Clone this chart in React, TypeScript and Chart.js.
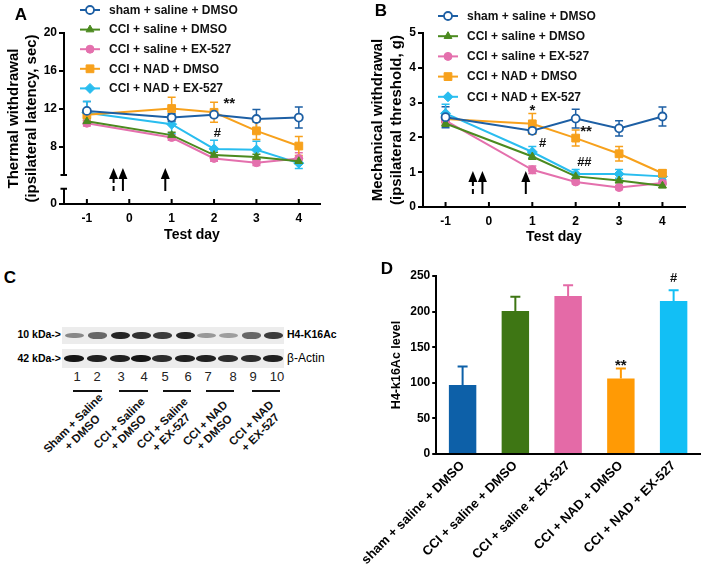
import React, { useEffect, useRef } from 'react';
import { Chart, registerables } from 'chart.js';
Chart.register(...registerables);

const FONT = '"Liberation Sans", Arial, Helvetica, sans-serif';

// ---------------- data ----------------
const testDays = [-1, 1, 2, 3, 4];
const dayTicks = [-1, 0, 1, 2, 3, 4];
const groupNames = [
  'sham + saline + DMSO',
  'CCI + saline + DMSO',
  'CCI + saline + EX-527',
  'CCI + NAD + DMSO',
  'CCI + NAD + EX-527',
];

// Panel A: thermal withdrawal latency (sec)
const thermalSham = [11.8, 11.1, 11.4, 10.95, 11.1];
const thermalShamErr = [1.0, 0.4, 0.25, 1.0, 1.1];
const thermalCciDmso = [10.7, 9.25, 7.15, 6.95, 6.5];
const thermalCciDmsoErr = [0.3, 0.3, 0.3, 0.3, 0.3];
const thermalCciEx = [10.5, 9.0, 6.8, 6.35, 6.8];
const thermalCciExErr = [0.3, 0.3, 0.3, 0.3, 0.6];
const thermalNadDmso = [11.4, 12.05, 11.65, 9.7, 8.1];
const thermalNadDmsoErr = [0.6, 1.2, 1.05, 0.9, 1.0];
const thermalNadEx = [11.6, 10.4, 7.8, 7.7, 6.3];
const thermalNadExErr = [1.2, 1.0, 0.9, 0.9, 0.55];
const thermalTickValues = [0, 8, 12, 16, 20];

// Panel B: mechanical withdrawal threshold (g)
const mechSham = [2.58, 2.19, 2.54, 2.26, 2.6];
const mechShamErr = [0.3, 0.08, 0.27, 0.22, 0.27];
const mechCciDmso = [2.4, 1.45, 0.88, 0.76, 0.61];
const mechCciDmsoErr = [0.08, 0.08, 0.06, 0.06, 0.05];
const mechCciEx = [2.48, 1.07, 0.72, 0.56, 0.69];
const mechCciExErr = [0.1, 0.11, 0.06, 0.06, 0.06];
const mechNadDmso = [2.53, 2.39, 1.98, 1.53, 0.97];
const mechNadDmsoErr = [0.1, 0.3, 0.23, 0.21, 0.1];
const mechNadEx = [2.69, 1.58, 0.95, 0.95, 0.88];
const mechNadExErr = [0.26, 0.16, 0.13, 0.13, 0.1];
const mechTickValues = [0, 1, 2, 3, 4, 5];

// Panel D: H4-K16Ac level
const h4Values = [97, 201, 222, 106, 215];
const h4Errors = [26, 20, 15, 14, 15];
const h4TickValues = [0, 50, 100, 150, 200, 250];

// Panel C: western blot
const laneNumbers = ['1', '2', '3', '4', '5', '6', '7', '8', '9', '10'];
const h4BandDarkness = [0.45, 0.6, 0.9, 0.85, 0.8, 0.9, 0.38, 0.35, 0.6, 0.8];
const actinBandDarkness = [0.95, 0.9, 0.9, 0.95, 0.85, 0.9, 0.9, 0.85, 0.85, 0.9];
const blotGroupLabels = [
  ['Sham + Saline', '+ DMSO'],
  ['CCI + Saline', '+ DMSO'],
  ['CCI + Saline', '+ EX-527'],
  ['CCI + NAD', '+ DMSO'],
  ['CCI + NAD', '+ EX-527'],
];

// injections (arrows) and significance marks
const injectionDays = [-0.37, -0.15, 0.85];
const injectionDashed = [true, false, false];
const thermalMarks = [
  { text: '**', day: 2.36, value: 12.95 },
  { text: '#', day: 2.08, value: 9.4 },
];
const mechMarks = [
  { text: '*', day: 1.0, value: 2.87 },
  { text: '**', day: 2.24, value: 2.27 },
  { text: '#', day: 1.24, value: 1.84 },
  { text: '##', day: 2.2, value: 1.27 },
];
const h4Marks = [
  { text: '**', index: 3, value: 130 },
  { text: '#', index: 4, value: 247 },
];

// ---------------- styles ----------------
const groupColors = ['#1d5fa4', '#4b8a1f', '#e470ad', '#f7a11c', '#29bdef'];
const barColors = ['#0d60a8', '#3e7614', '#e46aa7', '#ff9a05', '#12bff5'];
const groupMarkers = ['circle', 'triangle', 'circle', 'rect', 'rectRot'];
const groupHollow = [true, false, false, false, false];
const groupRadius = [4, 4.5, 4, 5.5, 5];

type Series = { name: string; color: string; marker: string; hollow: boolean; radius: number; values: number[]; errors: number[] };

function buildSeries(values: number[][], errors: number[][]): Series[] {
  return groupNames.map((name, i) => ({
    name,
    color: groupColors[i],
    marker: groupMarkers[i],
    hollow: groupHollow[i],
    radius: groupRadius[i],
    values: values[i],
    errors: errors[i],
  }));
}

function drawMarker(ctx: CanvasRenderingContext2D, s: Series, x: number, y: number) {
  const r = s.radius;
  ctx.beginPath();
  if (s.marker === 'circle') ctx.arc(x, y, r, 0, Math.PI * 2);
  else if (s.marker === 'triangle') {
    ctx.moveTo(x, y - r);
    ctx.lineTo(x + r * 0.866, y + r * 0.5);
    ctx.lineTo(x - r * 0.866, y + r * 0.5);
    ctx.closePath();
  } else if (s.marker === 'rect') {
    const h = r * Math.SQRT1_2;
    ctx.rect(x - h, y - h, 2 * h, 2 * h);
  } else {
    ctx.moveTo(x, y - r);
    ctx.lineTo(x + r, y);
    ctx.lineTo(x, y + r);
    ctx.lineTo(x - r, y);
    ctx.closePath();
  }
  ctx.fillStyle = s.hollow ? '#fff' : s.color;
  ctx.fill();
  ctx.lineWidth = s.hollow ? 1.8 : 1;
  ctx.strokeStyle = s.color;
  ctx.stroke();
}

type LinePanel = {
  series: Series[];
  width: number;
  height: number;
  area: { left: number; right: number; top: number; bottom: number };
  xMin: number;
  xMax: number;
  yMin: number;
  yMax: number;
  yTickPos: number[];
  yTickText: string[];
  yTitle: string[];
  yTitlePad: number;
  yTitleLH: number;
  xTitlePad: number;
  legend: { x1: number; x2: number; tx: number; y0: number; dy: number };
  yBreak?: [number, number];
  marks: { text: string; day: number; value: number }[];
};

function lineConfig(p: LinePanel): any {
  const overlay = {
    id: 'overlay',
    beforeDatasetsDraw(chart: any) {
      const ctx = chart.ctx;
      const xs = chart.scales.x;
      const ys = chart.scales.y;
      ctx.save();
      p.series.forEach((s) => {
        ctx.strokeStyle = s.color;
        ctx.lineWidth = 1.5;
        testDays.forEach((d, j) => {
          const x = xs.getPixelForValue(d);
          const y1 = ys.getPixelForValue(s.values[j] + s.errors[j]);
          const y2 = ys.getPixelForValue(s.values[j] - s.errors[j]);
          ctx.beginPath();
          ctx.moveTo(x, y1);
          ctx.lineTo(x, y2);
          ctx.moveTo(x - 4, y1);
          ctx.lineTo(x + 4, y1);
          ctx.moveTo(x - 4, y2);
          ctx.lineTo(x + 4, y2);
          ctx.stroke();
        });
      });
      ctx.restore();
    },
    afterDraw(chart: any) {
      const ctx: CanvasRenderingContext2D = chart.ctx;
      const xs = chart.scales.x;
      const ys = chart.scales.y;
      const ca = chart.chartArea;
      ctx.save();
      // y axis with optional break
      ctx.strokeStyle = '#000';
      ctx.lineWidth = 2;
      if (p.yBreak) {
        const xa = ca.left;
        const yb1 = ys.getPixelForValue(p.yBreak[1]);
        const yb0 = ys.getPixelForValue(p.yBreak[0]);
        ctx.beginPath();
        ctx.moveTo(xa, ca.top - 1);
        ctx.lineTo(xa, yb1);
        ctx.moveTo(xa - 3.5, yb1);
        ctx.lineTo(xa + 3, yb1);
        ctx.moveTo(xa - 3.5, yb0);
        ctx.lineTo(xa + 3, yb0);
        ctx.moveTo(xa, yb0);
        ctx.lineTo(xa, ca.bottom);
        ctx.stroke();
      }
      // x tick marks (inward)
      ctx.beginPath();
      dayTicks.forEach((d) => {
        const x = xs.getPixelForValue(d);
        ctx.moveTo(x, ca.bottom);
        ctx.lineTo(x, ca.bottom - 5);
      });
      ctx.stroke();
      // injection arrows
      injectionDays.forEach((d, k) => {
        const x = xs.getPixelForValue(d);
        const tip = ca.bottom - 36;
        const tail = ca.bottom - 13;
        const headH = 11;
        const hw = 4.5;
        ctx.fillStyle = '#000';
        ctx.beginPath();
        ctx.moveTo(x, tip);
        ctx.lineTo(x + hw, tip + headH);
        ctx.lineTo(x - hw, tip + headH);
        ctx.closePath();
        ctx.fill();
        ctx.lineWidth = 2;
        ctx.setLineDash(injectionDashed[k] ? [5, 3] : []);
        ctx.beginPath();
        ctx.moveTo(x, tip + headH - 1);
        ctx.lineTo(x, tail);
        ctx.stroke();
        ctx.setLineDash([]);
      });
      // significance marks
      ctx.fillStyle = '#111';
      ctx.textAlign = 'center';
      ctx.textBaseline = 'middle';
      p.marks.forEach((m) => {
        const star = m.text.includes('*');
        ctx.font = `bold ${star ? 15 : 13}px ${FONT}`;
        const x = xs.getPixelForValue(m.day);
        const y = ys.getPixelForValue(m.value) + (star ? 4 : 0);
        ctx.fillText(m.text, x, y);
      });
      // legend
      const L = p.legend;
      p.series.forEach((s, i) => {
        const y = L.y0 + i * L.dy;
        ctx.strokeStyle = s.color;
        ctx.lineWidth = 2;
        ctx.beginPath();
        ctx.moveTo(L.x1, y);
        ctx.lineTo(L.x2, y);
        ctx.stroke();
        drawMarker(ctx, s, (L.x1 + L.x2) / 2, y);
        ctx.fillStyle = '#111';
        ctx.font = `bold 12px ${FONT}`;
        ctx.textAlign = 'left';
        ctx.textBaseline = 'middle';
        ctx.fillText(s.name, L.tx, y + 0.5);
      });
      ctx.restore();
    },
  };

  return {
    type: 'scatter',
    data: {
      datasets: p.series.map((s) => ({
        label: s.name,
        data: testDays.map((d, j) => ({ x: d, y: s.values[j] })),
        showLine: true,
        borderColor: s.color,
        borderWidth: 2,
        pointStyle: s.marker,
        pointRadius: s.radius,
        pointBackgroundColor: s.hollow ? '#fff' : s.color,
        pointBorderColor: s.color,
        pointBorderWidth: s.hollow ? 1.8 : 1,
        tension: 0,
      })),
    },
    options: {
      animation: false,
      responsive: false,
      events: [],
      layout: { padding: { left: 0, top: p.area.top, right: p.width - p.area.right, bottom: 0 } },
      plugins: { legend: { display: false }, tooltip: { enabled: false } },
      scales: {
        x: {
          type: 'linear',
          min: p.xMin,
          max: p.xMax,
          afterBuildTicks: (s: any) => {
            s.ticks = dayTicks.map((v) => ({ value: v }));
          },
          afterFit: (s: any) => {
            s.height = p.height - p.area.bottom;
          },
          grid: { display: false, drawTicks: false },
          border: { display: true, color: '#000', width: 2 },
          ticks: { color: '#000', font: { family: FONT, size: 12, weight: 'bold' }, padding: 7, callback: (v: any) => String(v) },
          title: { display: true, text: 'Test day', color: '#000', font: { family: FONT, size: 14, weight: 'bold', lineHeight: 1.2 }, padding: { top: 0, bottom: p.xTitlePad } },
        },
        y: {
          type: 'linear',
          min: p.yMin,
          max: p.yMax,
          afterBuildTicks: (s: any) => {
            s.ticks = p.yTickPos.map((v) => ({ value: v }));
          },
          afterFit: (s: any) => {
            s.width = p.area.left;
          },
          grid: { display: true, drawOnChartArea: false, drawTicks: true, tickLength: 5, color: '#000', lineWidth: 2 },
          border: { display: !p.yBreak, color: '#000', width: 2 },
          ticks: {
            color: '#000',
            font: { family: FONT, size: 12, weight: 'bold' },
            padding: 2,
            callback: (v: any) => {
              const k = p.yTickPos.indexOf(v);
              return k >= 0 ? p.yTickText[k] : '';
            },
          },
          title: { display: true, text: p.yTitle, color: '#000', font: { family: FONT, size: 15, weight: 'bold', lineHeight: p.yTitleLH }, padding: { top: p.yTitlePad, bottom: 0 } },
        },
      },
    },
    plugins: [overlay],
  };
}

// position on the broken thermal axis where "0" is drawn
const thermalZeroAt = 2;

const panelA: LinePanel = {
  series: buildSeries(
    [thermalSham, thermalCciDmso, thermalCciEx, thermalNadDmso, thermalNadEx],
    [thermalShamErr, thermalCciDmsoErr, thermalCciExErr, thermalNadDmsoErr, thermalNadExErr]
  ),
  width: 352,
  height: 252,
  area: { left: 64, right: 320, top: 33, bottom: 204 },
  xMin: -1.54,
  xMax: 4.5,
  yMin: thermalZeroAt,
  yMax: 20,
  yTickPos: thermalTickValues.map((v) => (v === 0 ? thermalZeroAt : v)),
  yTickText: thermalTickValues.map((v) => String(v)),
  yTitle: ['Thermal withdrawal', '(ipsilateral latency, sec)'],
  yTitlePad: 5,
  yTitleLH: 1.2,
  xTitlePad: 8,
  legend: { x1: 80, x2: 100, tx: 109, y0: 10, dy: 19.6 },
  yBreak: [3.6, 5.05],
  marks: thermalMarks,
};

const panelB: LinePanel = {
  series: buildSeries(
    [mechSham, mechCciDmso, mechCciEx, mechNadDmso, mechNadEx],
    [mechShamErr, mechCciDmsoErr, mechCciExErr, mechNadDmsoErr, mechNadExErr]
  ),
  width: 353,
  height: 252,
  area: { left: 71, right: 333, top: 33, bottom: 207 },
  xMin: -1.52,
  xMax: 4.52,
  yMin: 0,
  yMax: 5,
  yTickPos: mechTickValues,
  yTickText: mechTickValues.map((v) => String(v)),
  yTitle: ['Mechanical withdrawal', '(ipsilateral threshold, g)'],
  yTitlePad: 16.5,
  yTitleLH: 1.27,
  xTitlePad: 6,
  legend: { x1: 86, x2: 106, tx: 115, y0: 16, dy: 20.2 },
  marks: mechMarks,
};

function barConfig(): any {
  const W = 353;
  const H = 311;
  const area = { left: 80, right: 348, top: 14, bottom: 192 };
  const overlay = {
    id: 'barOverlay',
    afterDatasetsDraw(chart: any) {
      const ctx: CanvasRenderingContext2D = chart.ctx;
      const xs = chart.scales.x;
      const ys = chart.scales.y;
      ctx.save();
      h4Values.forEach((v, i) => {
        const x = xs.getPixelForValue(i);
        const y0 = ys.getPixelForValue(v);
        const y1 = ys.getPixelForValue(v + h4Errors[i]);
        ctx.strokeStyle = barColors[i];
        ctx.lineWidth = 2;
        ctx.beginPath();
        ctx.moveTo(x, y0);
        ctx.lineTo(x, y1);
        ctx.moveTo(x - 5, y1);
        ctx.lineTo(x + 5, y1);
        ctx.stroke();
      });
      ctx.fillStyle = '#111';
      ctx.textAlign = 'center';
      ctx.textBaseline = 'middle';
      h4Marks.forEach((m) => {
        const star = m.text.includes('*');
        ctx.font = `bold ${star ? 15 : 13}px ${FONT}`;
        ctx.fillText(m.text, xs.getPixelForValue(m.index), ys.getPixelForValue(m.value) + (star ? 4 : 0));
      });
      ctx.restore();
    },
  };
  return {
    type: 'bar',
    data: {
      labels: groupNames,
      datasets: [
        {
          data: h4Values,
          backgroundColor: barColors,
          borderWidth: 0,
          barPercentage: 0.52,
          categoryPercentage: 1,
        },
      ],
    },
    options: {
      animation: false,
      responsive: false,
      events: [],
      layout: { padding: { left: 0, top: area.top, right: W - area.right, bottom: 0 } },
      plugins: { legend: { display: false }, tooltip: { enabled: false } },
      scales: {
        x: {
          type: 'category',
          afterFit: (s: any) => {
            s.height = H - area.bottom;
          },
          grid: { display: false, drawTicks: false },
          border: { display: true, color: '#000', width: 2 },
          ticks: { color: '#000', font: { family: FONT, size: 13, weight: 'bold' }, maxRotation: 45, minRotation: 45, autoSkip: false, padding: 4 },
        },
        y: {
          type: 'linear',
          min: 0,
          max: 250,
          afterBuildTicks: (s: any) => {
            s.ticks = h4TickValues.map((v) => ({ value: v }));
          },
          afterFit: (s: any) => {
            s.width = area.left;
          },
          grid: { display: true, drawOnChartArea: false, drawTicks: true, tickLength: 4, color: '#000', lineWidth: 2 },
          border: { display: true, color: '#000', width: 2 },
          ticks: { color: '#000', font: { family: FONT, size: 12, weight: 'bold' }, padding: 2 },
          title: { display: true, text: 'H4-k16Ac level', color: '#000', font: { family: FONT, size: 12.5, weight: 'bold', lineHeight: 1.2 }, padding: { top: 33, bottom: 0 } },
        },
      },
    },
    plugins: [overlay],
  };
}

function ChartBox(props: { make: () => any; left: number; top: number; width: number; height: number }) {
  const ref = useRef<HTMLCanvasElement>(null);
  useEffect(() => {
    const chart = new Chart(ref.current as HTMLCanvasElement, props.make());
    return () => chart.destroy();
  }, []);
  return (
    <canvas
      ref={ref}
      width={props.width}
      height={props.height}
      style={{ position: 'absolute', left: props.left, top: props.top, width: props.width, height: props.height }}
    />
  );
}

// blot layout
const laneBandX = [74, 97, 120, 141, 162, 185, 206, 228, 251, 273];
const laneNumberX = [77, 97, 121, 144, 165, 188, 208, 233, 253, 277];
const groupLineX = [
  [73, 102],
  [119, 148],
  [163, 191],
  [206, 234],
  [252, 280],
];

function Blot() {
  const abs = (s: any) => ({ position: 'absolute' as const, ...s });
  return (
    <>
      <div style={abs({ left: 62, top: 327, width: 222, height: 17, background: '#ececec' })} />
      <div style={abs({ left: 62, top: 349, width: 222, height: 19, background: '#ececec' })} />
      {laneBandX.map((x, i) => (
        <div
          key={'h' + i}
          style={abs({
            left: x - 9.5,
            top: 335.5 - (2 + h4BandDarkness[i] * 2),
            width: 19,
            height: 4 + h4BandDarkness[i] * 4,
            borderRadius: '45%',
            background: `rgba(15,15,15,${h4BandDarkness[i]})`,
            filter: 'blur(0.7px)',
          })}
        />
      ))}
      {laneBandX.map((x, i) => (
        <div
          key={'a' + i}
          style={abs({
            left: x - 10,
            top: 355,
            width: 20,
            height: 7,
            borderRadius: '45%',
            background: `rgba(10,10,10,${actinBandDarkness[i]})`,
            filter: 'blur(0.6px)',
          })}
        />
      ))}
      <div style={abs({ left: 0, width: 61, top: 328, textAlign: 'right', font: `bold 10.5px ${FONT}` })}>10 kDa-&gt;</div>
      <div style={abs({ left: 0, width: 61, top: 352, textAlign: 'right', font: `bold 10.5px ${FONT}` })}>42 kDa-&gt;</div>
      <div style={abs({ left: 287, top: 328, font: `bold 10.5px ${FONT}` })}>H4-K16Ac</div>
      <div style={abs({ left: 287, top: 351, font: `12px ${FONT}` })}>β-Actin</div>
      {laneNumbers.map((n, i) => (
        <div key={'n' + i} style={abs({ left: laneNumberX[i] - 10, width: 20, top: 369, textAlign: 'center', font: `13px ${FONT}`, color: '#222' })}>
          {n}
        </div>
      ))}
      {groupLineX.map((g, i) => (
        <div key={'l' + i} style={abs({ left: g[0], top: 390, width: g[1] - g[0], height: 1.5, background: '#111' })} />
      ))}
      {blotGroupLabels.map((lines, i) => (
        <div
          key={'g' + i}
          style={abs({
            left: (groupLineX[i][0] + groupLineX[i][1]) / 2 - 10,
            top: 428,
            transform: 'translate(-50%, -50%) rotate(-45deg)',
            textAlign: 'center',
            font: `bold 11.5px ${FONT}`,
            lineHeight: '13px',
            whiteSpace: 'nowrap',
            color: '#111',
          })}
        >
          {lines[0]}
          <br />
          {lines[1]}
        </div>
      ))}
    </>
  );
}

export default function App() {
  const label = (t: string, x: number, y: number) => (
    <div style={{ position: 'absolute', left: x, top: y, transform: 'translate(-50%, -50%)', font: `bold 17px ${FONT}`, color: '#000' }}>{t}</div>
  );
  return (
    <div style={{ position: 'absolute', left: 0, top: 0, width: 705, height: 573, background: '#fff', overflow: 'hidden', fontFamily: FONT }}>
      <ChartBox make={() => lineConfig(panelA)} left={0} top={0} width={352} height={252} />
      <ChartBox make={() => lineConfig(panelB)} left={352} top={0} width={353} height={252} />
      <ChartBox make={barConfig} left={352} top={262} width={353} height={311} />
      <Blot />
      {label('A', 21, 15)}
      {label('B', 381, 11)}
      {label('C', 10, 278)}
      {label('D', 387, 269)}
    </div>
  );
}
